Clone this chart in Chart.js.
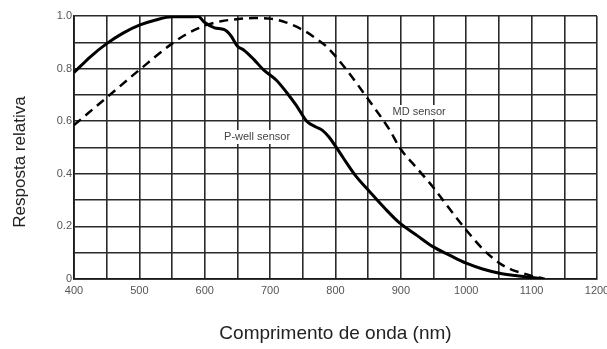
<!DOCTYPE html>
<html>
<head>
<meta charset="utf-8">
<script src="https://cdn.jsdelivr.net/npm/chart.js@4.4.0/dist/chart.umd.min.js"></script>
<style>
  html, body { margin: 0; padding: 0; background: #fff; }
  #grafico { display: block; }
</style>
</head>
<body>
<canvas id="grafico" width="607" height="349"></canvas>
<script>
// Curva do sensor P-well (comprimento de onda em nm, resposta relativa)
const pwellNm = [400, 425, 450, 475, 500, 525, 550, 575, 590, 600, 615, 630, 640, 650, 660, 675, 690, 710, 725, 740, 756, 770, 780, 790, 800, 812, 830, 853, 875, 898, 925, 949, 975, 1000, 1025, 1051, 1075, 1092, 1110, 1120];
const pwellResp = [0.785, 0.845, 0.895, 0.935, 0.965, 0.985, 0.997, 0.997, 0.998, 0.975, 0.955, 0.948, 0.925, 0.885, 0.87, 0.835, 0.795, 0.755, 0.71, 0.66, 0.60, 0.578, 0.565, 0.54, 0.505, 0.46, 0.395, 0.33, 0.27, 0.213, 0.165, 0.123, 0.09, 0.06, 0.038, 0.022, 0.013, 0.008, 0.003, 0];

// Curva do sensor MD
const mdNm = [400, 450, 500, 550, 575, 603, 625, 649, 675, 700, 725, 750, 770, 787, 817, 848, 883, 898, 925, 949, 975, 1000, 1025, 1051, 1070, 1087, 1100, 1117];
const mdResp = [0.585, 0.69, 0.795, 0.895, 0.935, 0.966, 0.98, 0.988, 0.992, 0.99, 0.975, 0.947, 0.915, 0.882, 0.795, 0.69, 0.566, 0.50, 0.42, 0.35, 0.265, 0.186, 0.115, 0.06, 0.035, 0.022, 0.012, 0.003];

// Rótulos das curvas
const curveLabels = ['P-well sensor', 'MD sensor'];
const curveLabelNm = [680, 928];
const curveLabelResp = [0.54, 0.635];

const toPoints = (xs, ys) => xs.map((x, i) => ({ x: x, y: ys[i] }));

const FONT = "Arial, 'Liberation Sans', sans-serif";

// desenha os textos das curvas e o título do eixo y
const textosPlugin = {
  id: 'textos',
  afterDatasetsDraw(chart) {
    const ctx = chart.ctx;
    const xs = chart.scales.x, ys = chart.scales.y;
    ctx.save();
    ctx.font = '11px ' + FONT;
    ctx.textAlign = 'center';
    ctx.textBaseline = 'middle';
    curveLabels.forEach((txt, i) => {
      const px = xs.getPixelForValue(curveLabelNm[i]);
      const py = ys.getPixelForValue(curveLabelResp[i]);
      const w = ctx.measureText(txt).width;
      ctx.fillStyle = '#fff';
      ctx.fillRect(px - w / 2 - 2, py - 7, w + 4, 14);
      ctx.fillStyle = '#444';
      ctx.fillText(txt, px, py);
    });
    ctx.restore();
  },
  afterDraw(chart) {
    const ctx = chart.ctx;
    ctx.save();
    ctx.translate(20, 162);
    ctx.rotate(-Math.PI / 2);
    ctx.font = '17px ' + FONT;
    ctx.fillStyle = '#222';
    ctx.textAlign = 'center';
    ctx.textBaseline = 'middle';
    ctx.fillText('Resposta relativa', 0, 0);
    ctx.restore();
  }
};

new Chart(document.getElementById('grafico'), {
  type: 'line',
  data: {
    datasets: [
      {
        label: 'P-well sensor',
        data: toPoints(pwellNm, pwellResp),
        borderColor: '#000',
        borderWidth: 3,
        pointRadius: 0,
        cubicInterpolationMode: 'monotone',
        fill: false
      },
      {
        label: 'MD sensor',
        data: toPoints(mdNm, mdResp),
        borderColor: '#000',
        borderWidth: 2.5,
        borderDash: [9, 6],
        pointRadius: 0,
        cubicInterpolationMode: 'monotone',
        fill: false
      }
    ]
  },
  options: {
    responsive: false,
    animation: false,
    layout: { padding: { left: 0, right: 10, top: 16, bottom: 0 } },
    plugins: {
      legend: { display: false },
      tooltip: { enabled: false }
    },
    scales: {
      x: {
        type: 'linear',
        min: 400,
        max: 1200,
        border: { color: '#1a1a1a', width: 1.8 },
        grid: { color: '#2a2a2a', lineWidth: 1.6, drawTicks: false },
        ticks: {
          stepSize: 50,
          autoSkip: false,
          maxRotation: 0,
          padding: 5,
          color: '#555',
          font: { family: FONT, size: 11 },
          callback: v => (v % 100 === 0 ? String(v) : '')
        },
        title: {
          display: true,
          text: 'Comprimento de onda (nm)',
          color: '#222',
          font: { family: FONT, size: 19 },
          padding: { top: 0, bottom: 4 }
        },
        afterFit(scale) {
          scale.height = 70;
          scale.paddingLeft = 0;
          scale.paddingRight = 0;
        }
      },
      y: {
        min: 0,
        max: 1,
        border: { color: '#1a1a1a', width: 1.8 },
        grid: { color: '#2a2a2a', lineWidth: 1.6, drawTicks: false },
        ticks: {
          stepSize: 0.1,
          autoSkip: false,
          padding: 2,
          color: '#555',
          font: { family: FONT, size: 11 },
          callback: v => {
            const k = Math.round(v * 10);
            if (k % 2 !== 0) return '';
            return k === 0 ? '0' : (k / 10).toFixed(1);
          }
        },
        afterFit(scale) {
          scale.width = 74;
        }
      }
    }
  },
  plugins: [textosPlugin]
});
</script>
</body>
</html>
